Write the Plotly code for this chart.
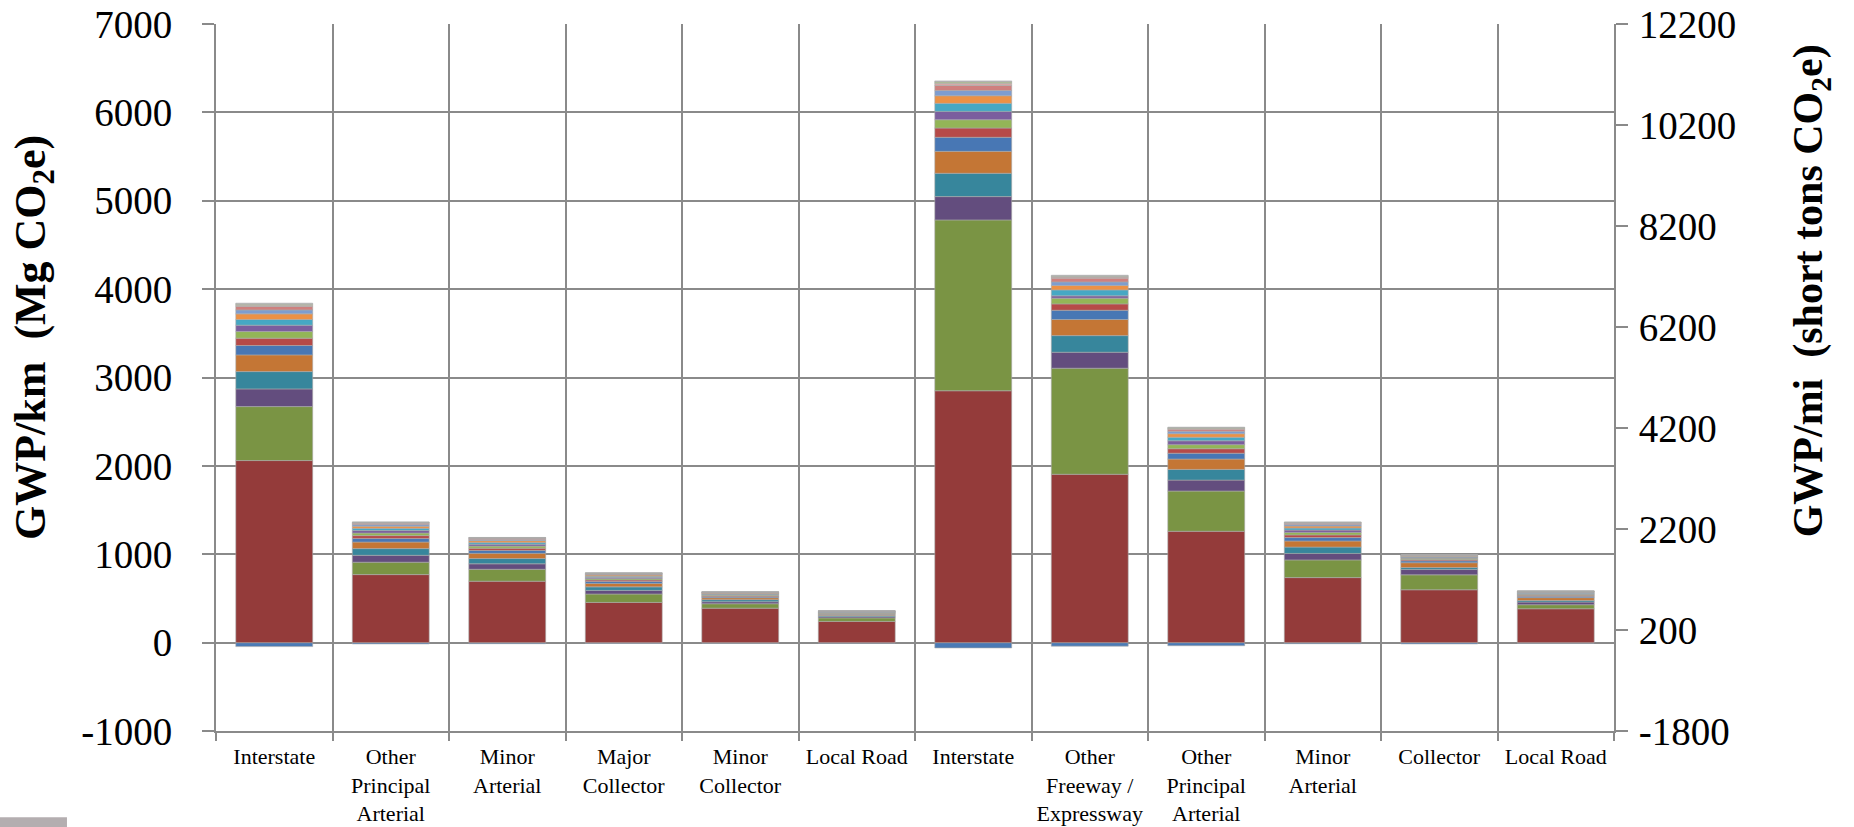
import plotly.graph_objects as go

# Road functional classes (two groups of six bars)
categories = [
    "Interstate", "Other<br>Principal<br>Arterial", "Minor<br>Arterial",
    "Major<br>Collector", "Minor<br>Collector", "Local Road",
    "Interstate", "Other<br>Freeway /<br>Expressway", "Other<br>Principal<br>Arterial",
    "Minor<br>Arterial", "Collector", "Local Road",
]

# GWP contribution of each stacked component, Mg CO2e per km
stage01 = [-45, -15, -12, -10, -8, -6, -60, -40, -35, -12, -15, -8]
stage02 = [2060, 770, 695, 455, 390, 240, 2850, 1905, 1260, 736, 598, 383]
stage03 = [611, 140, 135, 95, 50, 40, 1933, 1200, 455, 200, 169, 46]
stage04 = [200, 78, 62, 41, 23, 14, 264, 181, 124, 73, 60, 30]
stage05 = [196, 76, 60, 40, 23, 13, 264, 188, 121, 72, 22, 18]
stage06 = [189, 74, 58, 39, 22, 13, 248, 182, 117, 69, 55, 32]
stage07 = [106, 41, 33, 22, 12, 7, 159, 105, 66, 39, 22, 15]
stage08 = [83, 32, 26, 17, 10, 6, 105, 72, 51, 30, 15, 12]
stage09 = [75, 29, 23, 15, 9, 5, 94, 64, 46, 28, 15, 10]
stage10 = [72, 28, 22, 15, 8, 5, 94, 27, 44, 26, 10, 9]
stage11 = [64, 25, 20, 13, 7, 4, 91, 67, 40, 23, 8, 8]
stage12 = [64, 25, 20, 13, 7, 4, 86, 50, 40, 23, 7, 7]
stage13 = [45, 18, 14, 9, 5, 3, 60, 41, 28, 17, 5, 6]
stage14 = [38, 15, 12, 8, 4, 3, 56, 42, 23, 14, 3, 4]
stage15 = [15, 6, 5, 3, 2, 1, 26, 12, 9, 6, 2, 2]
stage16 = [12, 5, 3, 3, 2, 1, 15, 10, 8, 5, 1, 1]
stage17 = [11, 3, 2, 2, 1, 1, 11, 11, 6, 4, 1, 1]

series = [stage01, stage02, stage03, stage04, stage05, stage06, stage07, stage08, stage09,
          stage10, stage11, stage12, stage13, stage14, stage15, stage16, stage17]
series_names = [f"Stage {i + 1}" for i in range(len(series))]
colors = [
    "#4A7AB5", "#943B3A", "#7A9444", "#634D7E", "#37869C", "#C47635",
    "#4877B4", "#B64A48", "#93B557", "#7B5E9E", "#46A8C4", "#EC9145",
    "#7E9DCF", "#CF807E", "#D5A9A7", "#B3CA86", "#BDBDBD",
]

# Axis tick values/labels
left_ticks = [-1000, 0, 1000, 2000, 3000, 4000, 5000, 6000, 7000]
left_labels = ["-1000", "0", "1000", "2000", "3000", "4000", "5000", "6000", "7000"]
right_ticks = [-1800, 200, 2200, 4200, 6200, 8200, 10200, 12200]
right_labels = ["-1800", "200", "2200", "4200", "6200", "8200", "10200", "12200"]

positions = list(range(len(categories)))
boundaries = [p - 0.5 for p in positions] + [len(categories) - 0.5]

GRID = "#8A8A8A"
FONT = "Liberation Serif"

fig = go.Figure()
for name, vals, col in zip(series_names, series, colors):
    fig.add_trace(go.Bar(
        x=positions, y=vals, name=name,
        marker=dict(color=col, line=dict(color="rgba(170,170,170,0.6)", width=1)),
        xaxis="x", yaxis="y",
    ))

# empty traces so the secondary axes are rendered
fig.add_trace(go.Scatter(x=[], y=[], xaxis="x2", yaxis="y", showlegend=False, hoverinfo="skip"))
fig.add_trace(go.Scatter(x=[], y=[], xaxis="x", yaxis="y2", showlegend=False, hoverinfo="skip"))

fig.update_layout(
    width=1854, height=827,
    margin=dict(l=216, r=240, t=24, b=96, autoexpand=False),
    paper_bgcolor="white", plot_bgcolor="white",
    barmode="relative", bargap=0.34,
    showlegend=False,
    font=dict(family=FONT, color="black"),
    xaxis=dict(
        range=[-0.5, len(categories) - 0.5], tickvals=boundaries, showticklabels=False,
        showgrid=True, gridcolor=GRID, gridwidth=2, zeroline=False,
        showline=True, linecolor=GRID, linewidth=2,
        ticks="outside", ticklen=8, tickwidth=2, tickcolor=GRID,
    ),
    xaxis2=dict(
        overlaying="x", anchor="y", side="bottom",
        range=[-0.5, len(categories) - 0.5], tickvals=positions, ticktext=categories,
        showgrid=False, zeroline=False, showline=False, ticks="",
        tickfont=dict(family=FONT, size=22, color="black"), ticklabelstandoff=10,
    ),
    yaxis=dict(
        range=[-1000, 7000], tickvals=left_ticks, ticktext=left_labels,
        showgrid=True, gridcolor=GRID, gridwidth=2, zeroline=False,
        showline=True, linecolor=GRID, linewidth=2,
        ticks="outside", ticklen=12, tickwidth=2, tickcolor=GRID,
        tickfont=dict(family=FONT, size=39, color="black"), ticklabelstandoff=22,
    ),
    yaxis2=dict(
        overlaying="y", side="right", anchor="x",
        range=[-1800, 12200], tickvals=right_ticks, ticktext=right_labels,
        showgrid=False, zeroline=False,
        showline=True, linecolor=GRID, linewidth=2,
        ticks="outside", ticklen=12, tickwidth=2, tickcolor=GRID,
        tickfont=dict(family=FONT, size=39, color="black"), ticklabelstandoff=3,
    ),
    annotations=[
        dict(text="<b>GWP/km&nbsp; (Mg CO<sub>2</sub>e)</b>", textangle=-90,
             xref="paper", yref="paper", x=-0.131, y=0.557,
             xanchor="center", yanchor="middle", showarrow=False,
             font=dict(family=FONT, size=44, color="black")),
        dict(text="<b>GWP/mi&nbsp; (short tons CO<sub>2</sub>e)</b>", textangle=-90,
             xref="paper", yref="paper", x=1.141, y=0.622,
             xanchor="center", yanchor="middle", showarrow=False,
             font=dict(family=FONT, size=42, color="black")),
    ],
    shapes=[
        dict(type="rect", xref="paper", yref="paper", layer="above",
             x0=-0.1545, x1=-0.1066, y0=-0.1362, y1=-0.1221,
             fillcolor="#B4AEB0", line=dict(width=0)),
    ],
)

fig.write_html("out.html")
